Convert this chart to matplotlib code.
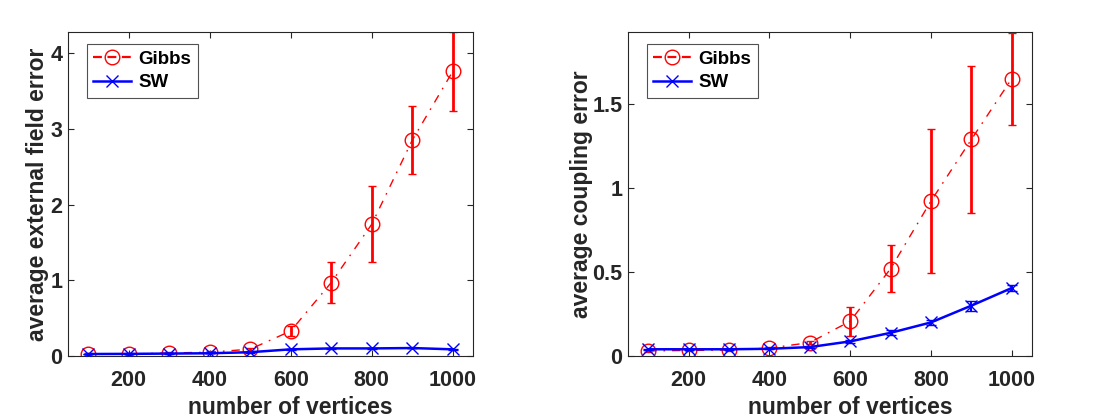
import matplotlib
matplotlib.use("Agg")
import matplotlib.pyplot as plt
from matplotlib.lines import Line2D

plt.rcParams['font.family'] = ['Liberation Sans', 'DejaVu Sans']
plt.rcParams['font.weight'] = 'bold'

vertices = [100, 200, 300, 400, 500, 600, 700, 800, 900, 1000]

# external field error
gibbs_field = [0.026, 0.026, 0.04, 0.05, 0.09, 0.33, 0.97, 1.74, 2.85, 3.76]
gibbs_field_err = [0.01, 0.01, 0.01, 0.015, 0.02, 0.06, 0.27, 0.50, 0.45, 0.52]
sw_field = [0.026, 0.028, 0.032, 0.036, 0.05, 0.088, 0.10, 0.10, 0.105, 0.088]
sw_field_err = [0.003, 0.003, 0.003, 0.003, 0.004, 0.005, 0.005, 0.005, 0.005, 0.005]

# coupling error
gibbs_coup = [0.030, 0.033, 0.036, 0.047, 0.08, 0.207, 0.52, 0.923, 1.29, 1.652]
gibbs_coup_err = [0.005, 0.005, 0.005, 0.007, 0.01, 0.085, 0.14, 0.43, 0.44, 0.275]
sw_coup = [0.040, 0.040, 0.040, 0.043, 0.053, 0.087, 0.138, 0.20, 0.30, 0.405]
sw_coup_err = [0.003, 0.003, 0.003, 0.003, 0.005, 0.008, 0.015, 0.015, 0.03, 0.015]

panels = [
    (gibbs_field, gibbs_field_err, sw_field, sw_field_err,
     'average external field error', [0, 1, 2, 3, 4], ['0', '1', '2', '3', '4'], 4.28, -0.048),
    (gibbs_coup, gibbs_coup_err, sw_coup, sw_coup_err,
     'average coupling error', [0, 0.5, 1, 1.5], ['0', '0.5', '1', '1.5'], 1.93, -0.086),
]

fig = plt.figure(figsize=(11.2, 4.2), dpi=100)
positions = [[0.0607, 0.1524, 0.3616, 0.7714], [0.5607, 0.1524, 0.3607, 0.7714]]
textc = '#262626'
dashdot = (0, (6, 5, 1.2, 5))

for pos, (g, ge, s, se, ylab, yt, ytl, ytop, ylx) in zip(positions, panels):
    ax = fig.add_axes(pos)
    ax.errorbar(vertices, g, yerr=ge, color='red', ls=dashdot, lw=1.0,
                marker='o', ms=10.5, mfc='none', mec='red', mew=1.0,
                ecolor='red', elinewidth=2.0, capsize=3, capthick=2.0,
                zorder=2)
    ax.errorbar(vertices, s, yerr=se, color='blue', ls='-', lw=1.8,
                marker='x', ms=9, mec='blue', mew=1.0,
                ecolor='blue', elinewidth=1.5, capsize=3.5, capthick=1.5,
                zorder=3)
    ax.set_xlim(50, 1050)
    ax.set_ylim(0, ytop)
    ax.set_xticks([200, 400, 600, 800, 1000])
    ax.set_yticks(yt)
    ax.set_yticklabels(ytl)
    ax.tick_params(direction='in', top=True, right=True, length=4,
                   labelsize=15.5, labelcolor=textc, color=textc, width=0.8)
    ax.tick_params(axis='x', pad=10)
    ax.tick_params(axis='y', pad=4)
    for lab in ax.get_xticklabels() + ax.get_yticklabels():
        lab.set_fontweight('bold')
    for sp in ax.spines.values():
        sp.set_color(textc)
        sp.set_linewidth(0.8)
    ax.set_xlabel('number of vertices', fontsize=16.5, fontweight='bold', color=textc)
    ax.xaxis.set_label_coords(0.55, -0.124)
    ax.set_ylabel(ylab, fontsize=16.5, fontweight='bold', color=textc)
    ax.yaxis.set_label_coords(ylx, 0.5)
    handles = [
        Line2D([], [], color='red', ls=(0, (4, 2.5)), lw=1.6, marker='o', ms=10.5,
               mfc='none', mec='red', mew=1.0),
        Line2D([], [], color='blue', ls='-', lw=1.8, marker='x', ms=9,
               mec='blue', mew=1.0),
    ]
    leg = ax.legend(handles, ['Gibbs', 'SW'], loc='upper left', fontsize=13.5,
                    frameon=True, fancybox=False, edgecolor=textc,
                    bbox_to_anchor=(0.046, 0.963), borderaxespad=0,
                    handlelength=2.0, borderpad=0.35, labelspacing=0.35,
                    handletextpad=0.4)
    leg.get_frame().set_linewidth(0.8)
    for t in leg.get_texts():
        t.set_fontweight('bold')

fig.savefig('out.png', dpi=100)
